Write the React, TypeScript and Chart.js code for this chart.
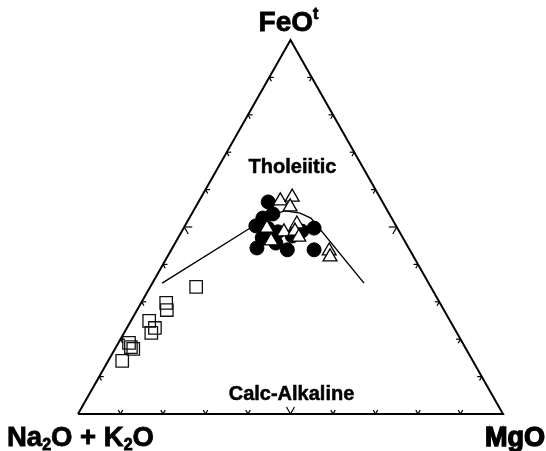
import React, { useEffect, useRef } from "react";
import { Chart, registerables } from "chart.js";

Chart.register(...registerables);

// Ternary data, in percent: A = Na2O + K2O, F = FeOt, M = MgO
const tickValues = [10, 20, 30, 40, 50, 60, 70, 80, 90];

const frameAlk = [100, 0, 0, 100];
const frameFeO = [0, 0, 100, 0];
const frameMgO = [0, 100, 0, 0];

// Irvine & Baragar tholeiitic / calc-alkaline divide
const divideFeO = [35.0, 50.0, 53.2, 54.3, 53.7, 52.4, 35.0];
const divideMgO = [2.3, 15.9, 18.6, 21.6, 25.4, 28.6, 49.8];
const divideAlk = [62.7, 34.1, 28.2, 24.1, 20.9, 19.0, 15.2];

// open squares
const squareFeO = [34.0, 29.7, 27.8, 24.9, 23.0, 21.7, 19.0, 17.9, 17.4, 14.2];
const squareMgO = [10.8, 5.9, 7.0, 4.3, 6.6, 6.4, 2.5, 3.5, 4.3, 3.3];
const squareAlk = [55.2, 64.4, 65.2, 70.8, 70.4, 71.9, 78.5, 78.6, 78.3, 82.5];

// filled circles
const circleFeO = [56.7, 53.5, 52.4, 50.3, 49.7, 48.7, 47.1, 45.7, 44.4, 43.9, 47.6, 48.9, 49.7, 43.9];
const circleMgO = [16.4, 19.1, 17.3, 16.7, 19.8, 22.7, 19.8, 23.7, 19.9, 27.3, 26.6, 28.2, 30.7, 33.6];
const circleAlk = [26.9, 27.4, 30.3, 33.0, 30.5, 28.6, 33.1, 30.6, 35.7, 28.8, 25.8, 22.9, 19.6, 22.5];

// open triangles
const triFeO = [57.0, 58.0, 55.4, 49.7, 46.3, 48.7, 50.8, 48.9, 47.3, 43.6, 42.0];
const triMgO = [19.1, 21.4, 22.2, 19.6, 22.3, 24.1, 26.1, 26.6, 28.3, 37.3, 38.3];
const triAlk = [23.9, 20.6, 22.4, 30.7, 31.4, 27.2, 23.1, 24.5, 24.4, 19.1, 19.7];

function tern(a: number, f: number, m: number) {
  const t = a + f + m;
  return { x: (m + f / 2) / t, y: f / t };
}

function toPoints(a: number[], f: number[], m: number[]) {
  return f.map((_, i) => tern(a[i], f[i], m[i]));
}

const FONT = "'Liberation Sans', Arial, Helvetica, sans-serif";

type Part = { t: string; s?: number };

function drawRich(ctx: CanvasRenderingContext2D, parts: Part[], x: number, y: number, size: number, align: "left" | "right" | "center", stroke = 0) {
  const subSize = Math.round(size * 0.58);
  const fontFor = (p: Part) => `bold ${p.s ? subSize : size}px ${FONT}`;
  let total = 0;
  for (const p of parts) {
    ctx.font = fontFor(p);
    total += ctx.measureText(p.t).width;
  }
  let cx = align === "left" ? x : align === "right" ? x - total : x - total / 2;
  ctx.textAlign = "left";
  ctx.textBaseline = "alphabetic";
  for (const p of parts) {
    ctx.font = fontFor(p);
    const dy = p.s === 1 ? size * 0.16 : p.s === -1 ? -size * 0.42 : 0;
    ctx.fillText(p.t, cx, y + dy);
    if (stroke) {
      ctx.lineWidth = stroke;
      ctx.strokeText(p.t, cx, y + dy);
    }
    cx += ctx.measureText(p.t).width;
  }
}

const ternaryDecor = {
  id: "ternaryDecor",
  afterDatasetsDraw(chart: any) {
    const { ctx } = chart;
    const xs = chart.scales.x;
    const ys = chart.scales.y;
    const px = (a: number, f: number, m: number) => {
      const p = tern(a, f, m);
      return [xs.getPixelForValue(p.x), ys.getPixelForValue(p.y)];
    };
    const dir = (from: number[], to: number[]) => {
      const dx = to[0] - from[0];
      const dy = to[1] - from[1];
      const l = Math.hypot(dx, dy);
      return [dx / l, dy / l];
    };
    const vA = px(100, 0, 0);
    const vF = px(0, 100, 0);
    const vM = px(0, 0, 100);

    ctx.save();
    ctx.strokeStyle = "#000";
    ctx.lineWidth = 1.2;
    const arm = (p: number[], d: number[], len: number) => {
      ctx.beginPath();
      ctx.moveTo(p[0], p[1]);
      ctx.lineTo(p[0] + d[0] * len, p[1] + d[1] * len);
      ctx.stroke();
    };
    for (const t of tickValues) {
      const len = t === 50 ? 8 : 4.5;
      // bottom edge
      const b = px(100 - t, 0, t);
      arm(b, dir(vM, vF), len);
      arm(b, dir(vA, vF), len);
      // left edge
      const l = px(100 - t, t, 0);
      arm(l, dir(vA, vM), len);
      arm(l, dir(vF, vM), len);
      // right edge
      const r = px(0, t, 100 - t);
      arm(r, dir(vM, vA), len);
      arm(r, dir(vF, vA), len);
    }

    ctx.fillStyle = "#000";
    ctx.strokeStyle = "#000";
    // corner labels
    drawRich(ctx, [{ t: "FeO" }, { t: "t", s: -1 }], vF[0] - 2, vF[1] - 9, 28, "center", 0.8);
    drawRich(ctx, [{ t: "Na" }, { t: "2", s: 1 }, { t: "O + K" }, { t: "2", s: 1 }, { t: "O" }], 7, 446, 27.5, "left", 0.8);
    drawRich(ctx, [{ t: "MgO" }], 545, 446, 27, "right", 1.4);

    // field labels
    const th = tern(34, 66, 0);
    const ca = tern(94.7, 5.3, 0);
    const cx = xs.getPixelForValue(0.5);
    ctx.font = `bold 20px ${FONT}`;
    ctx.textAlign = "center";
    ctx.textBaseline = "middle";
    ctx.lineWidth = 0.5;
    ctx.fillText("Tholeiitic", cx + 2, ys.getPixelForValue(th.y));
    ctx.strokeText("Tholeiitic", cx + 2, ys.getPixelForValue(th.y));
    ctx.fillText("Calc-Alkaline", cx + 1, ys.getPixelForValue(ca.y));
    ctx.strokeText("Calc-Alkaline", cx + 1, ys.getPixelForValue(ca.y));
    ctx.restore();
  },
};

export default function App() {
  const ref = useRef<HTMLCanvasElement | null>(null);
  useEffect(() => {
    if (!ref.current) return;
    const chart = new Chart(ref.current, {
      type: "scatter",
      data: {
        datasets: [
          {
            label: "triangles",
            data: toPoints(triAlk, triFeO, triMgO),
            pointStyle: "triangle",
            pointRadius: 8,
            backgroundColor: "#ffffff",
            borderColor: "#000000",
            borderWidth: 1.3,
            order: 1,
            clip: false,
          },
          {
            label: "circles",
            data: toPoints(circleAlk, circleFeO, circleMgO),
            pointStyle: "circle",
            pointRadius: 7,
            backgroundColor: "#000000",
            borderColor: "#000000",
            borderWidth: 1,
            order: 2,
            clip: false,
          },
          {
            label: "squares",
            data: toPoints(squareAlk, squareFeO, squareMgO),
            pointStyle: "rect",
            pointRadius: 8.8,
            backgroundColor: "rgba(0,0,0,0)",
            borderColor: "#111111",
            borderWidth: 1.3,
            order: 3,
            clip: false,
          },
          {
            label: "divide",
            type: "line",
            data: toPoints(divideAlk, divideFeO, divideMgO),
            showLine: true,
            pointRadius: 0,
            borderColor: "#000000",
            borderWidth: 1.4,
            tension: 0,
            fill: false,
            order: 4,
            clip: false,
          },
          {
            label: "frame",
            type: "line",
            data: toPoints(frameAlk, frameFeO, frameMgO),
            showLine: true,
            pointRadius: 0,
            borderColor: "#000000",
            borderWidth: 2,
            borderJoinStyle: "miter",
            tension: 0,
            fill: false,
            order: 5,
            clip: false,
          },
        ] as any,
      },
      options: {
        responsive: false,
        animation: false,
        events: [],
        layout: { padding: { left: 78, right: 43, top: 40, bottom: 37 } },
        scales: {
          x: { type: "linear", min: 0, max: 1, display: false },
          y: { type: "linear", min: 0, max: 1, display: false },
        },
        plugins: { legend: { display: false }, tooltip: { enabled: false } },
      },
      plugins: [ternaryDecor],
    });
    return () => chart.destroy();
  }, []);

  return (
    <div style={{ position: "absolute", left: 0, top: 0, width: 546, height: 451, background: "#fff" }}>
      <canvas ref={ref} width={546} height={451} style={{ display: "block" }} />
    </div>
  );
}
